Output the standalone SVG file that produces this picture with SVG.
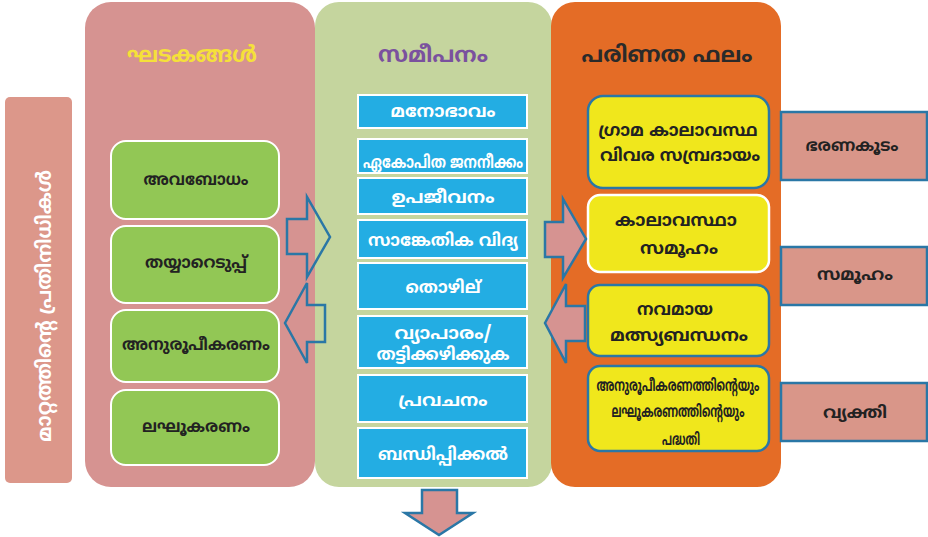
<svg xmlns="http://www.w3.org/2000/svg" width="928" height="537" viewBox="0 0 928 537">
<style>
text{font-family:"Noto Sans Malayalam","Noto Sans","DejaVu Sans",sans-serif;text-anchor:middle;font-weight:bold}
.col{stroke:none}
.g{fill:#92c755;stroke:#ffffff;stroke-width:2}
.b{fill:#23ade3;stroke:#ffffff;stroke-width:2}
.y{fill:#f0e71c;stroke:#2a77a6;stroke-width:2.5}
.yw{fill:#f0e71c;stroke:#ffffff;stroke-width:2.5}
.r{fill:#d99689;stroke:#2a77a6;stroke-width:2.5}
.dk{fill:#222222;font-size:16.5px}
.yt{fill:#222222;font-size:17.5px}
.wt{fill:#ffffff;font-size:17.5px}
.arr{stroke:#2a77a6;stroke-width:2.5;stroke-linejoin:miter}
</style>
<g id="agents">
<rect x="5" y="97" width="67" height="386" rx="5" fill="#dc978a"/>
<text transform="translate(51,306) rotate(-90)" fill="#ffffff" font-size="20" textLength="272" lengthAdjust="spacingAndGlyphs">മാറ്റത്തിന്റെ പ്രതിനിധികൾ</text>
</g>
<g id="col-components">
<rect class="col" x="85" y="2" width="230" height="485" rx="26" fill="#d69391"/>
<text x="192" y="62" fill="#f5e03a" font-size="22" textLength="130" lengthAdjust="spacingAndGlyphs">ഘടകങ്ങൾ</text>
</g>
<g id="col-approach">
<rect class="col" x="315" y="2" width="237" height="485" rx="24" fill="#c5d59e"/>
<text x="433" y="62" fill="#7a519e" font-size="22" textLength="110" lengthAdjust="spacingAndGlyphs">സമീപനം</text>
</g>
<g id="col-result">
<rect class="col" x="551" y="2" width="230" height="485" rx="24" fill="#e46c26"/>
<text x="667" y="62" fill="#2a2a2a" font-size="22" textLength="171" lengthAdjust="spacingAndGlyphs">പരിണത ഫലം</text>
</g>
<g id="g1"><rect class="g" x="111" y="141" width="168" height="78" rx="15"/><text class="dk" x="196" y="185" textLength="105" lengthAdjust="spacingAndGlyphs">അവബോധം</text></g>
<g id="g2"><rect class="g" x="111" y="226" width="168" height="77" rx="15"/><text class="dk" x="196" y="268" textLength="102" lengthAdjust="spacingAndGlyphs">തയ്യാറെടുപ്പ്</text></g>
<g id="g3"><rect class="g" x="111" y="310" width="168" height="72" rx="15"/><text class="dk" x="196" y="350" textLength="148" lengthAdjust="spacingAndGlyphs">അനുരൂപീകരണം</text></g>
<g id="g4"><rect class="g" x="111" y="390" width="168" height="75" rx="15"/><text class="dk" x="196" y="432" textLength="108" lengthAdjust="spacingAndGlyphs">ലഘൂകരണം</text></g>
<g id="b1"><rect class="b" x="358" y="95" width="169" height="33"/><text class="wt" x="443" y="117" textLength="105" lengthAdjust="spacingAndGlyphs">മനോഭാവം</text></g>
<g id="b2"><rect class="b" x="358" y="139" width="169" height="34"/><text class="wt" x="443" y="168" textLength="160" lengthAdjust="spacingAndGlyphs">ഏകോപിത ജനനീക്കം</text></g>
<g id="b3"><rect class="b" x="358" y="178" width="169" height="36"/><text class="wt" x="443" y="203" textLength="103" lengthAdjust="spacingAndGlyphs">ഉപജീവനം</text></g>
<g id="b4"><rect class="b" x="358" y="220" width="169" height="38"/><text class="wt" x="443" y="246" textLength="150" lengthAdjust="spacingAndGlyphs">സാങ്കേതിക വിദ്യ</text></g>
<g id="b5"><rect class="b" x="358" y="263" width="169" height="46"/><text class="wt" x="443" y="293" textLength="75" lengthAdjust="spacingAndGlyphs">തൊഴില്</text></g>
<g id="b6"><rect class="b" x="358" y="316" width="169" height="52"/><text class="wt" x="443" y="339" textLength="97" lengthAdjust="spacingAndGlyphs">വ്യാപാരം/</text><text class="wt" x="443" y="360" textLength="133" lengthAdjust="spacingAndGlyphs">തട്ടിക്കഴിക്കുക</text></g>
<g id="b7"><rect class="b" x="358" y="375" width="169" height="47"/><text class="wt" x="443" y="406" textLength="89" lengthAdjust="spacingAndGlyphs">പ്രവചനം</text></g>
<g id="b8"><rect class="b" x="358" y="428" width="169" height="50"/><text class="wt" x="443" y="460" textLength="130" lengthAdjust="spacingAndGlyphs">ബന്ധിപ്പിക്കൽ</text></g>
<g id="y1"><rect class="y" x="588" y="96" width="181" height="92" rx="15"/><text class="yt" x="678" y="136" textLength="159" lengthAdjust="spacingAndGlyphs">ഗ്രാമ കാലാവസ്ഥ</text><text class="yt" x="680" y="161" textLength="160" lengthAdjust="spacingAndGlyphs">വിവര സമ്പ്രദായം</text></g>
<g id="y2"><rect class="yw" x="588" y="195" width="181" height="77" rx="12"/><text class="yt" x="676" y="226" textLength="122" lengthAdjust="spacingAndGlyphs">കാലാവസ്ഥാ</text><text class="yt" x="679" y="254" textLength="78" lengthAdjust="spacingAndGlyphs">സമൂഹം</text></g>
<g id="y3"><rect class="y" x="588" y="285" width="181" height="71" rx="12"/><text class="yt" x="675" y="315" textLength="76" lengthAdjust="spacingAndGlyphs">നവമായ</text><text class="yt" x="679" y="341" textLength="138" lengthAdjust="spacingAndGlyphs">മത്സ്യബന്ധനം</text></g>
<g id="y4"><rect class="y" x="588" y="366" width="181" height="85" rx="12"/><text class="dk" x="678" y="391" font-size="14" textLength="163" lengthAdjust="spacingAndGlyphs">അനുരൂപീകരണത്തിന്റെയും</text><text class="dk" x="678" y="417" font-size="14" textLength="133" lengthAdjust="spacingAndGlyphs">ലഘൂകരണത്തിന്റെയും</text><text class="dk" x="681" y="445" font-size="14" textLength="38" lengthAdjust="spacingAndGlyphs">പദ്ധതി</text></g>
<g id="r1"><rect class="r" x="781" y="112" width="146" height="68"/><text class="dk" x="852" y="151" textLength="93" lengthAdjust="spacingAndGlyphs">ഭരണകൂടം</text></g>
<g id="r2"><rect class="r" x="781" y="247" width="146" height="58"/><text class="dk" x="855" y="280" textLength="76" lengthAdjust="spacingAndGlyphs">സമൂഹം</text></g>
<g id="r3"><rect class="r" x="781" y="383" width="146" height="58"/><text class="dk" x="855" y="418" textLength="64" lengthAdjust="spacingAndGlyphs">വ്യക്തി</text></g>
<g id="connectors">
<path class="arr" fill="none" d="M287,219 H307 V197 L330,237 L307,277 V254 H287 Z"/>
<path class="arr" fill="none" d="M285,323 L307,283 V305 H325 V342 H307 V363 Z"/>
<path class="arr" fill="#d69391" d="M545,222 H563 V199 L586,239 L563,278 V257 H545 Z"/>
<path class="arr" fill="#d69391" d="M545,323 L566,284 V306 H585 V341 H566 V363 Z"/>
<path class="arr" fill="#d69391" d="M422,490 H457 V513 H473 L439,535 L405,513 H422 Z"/>
</g>
</svg>
